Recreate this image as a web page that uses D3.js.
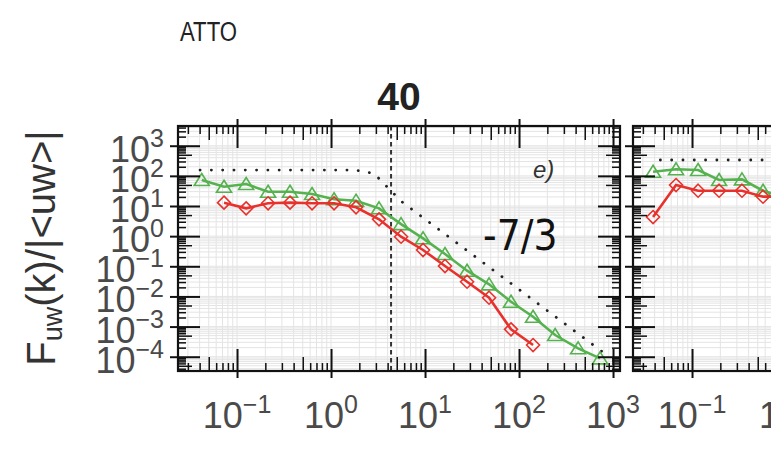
<!DOCTYPE html>
<html><head><meta charset="utf-8">
<script src="https://cdn.jsdelivr.net/npm/d3@7"></script>
<style>body{margin:0;background:#fff} svg{display:block}</style>
</head><body>
<svg id="chart" width="771" height="475"></svg>
<script>
// ---- spectral estimates, panel "40" ----
const kGreen1 = [0.0421,0.0727,0.125,0.214,0.366,0.628,1.077,1.845,3.24,5.56,9.53,16.3,28.0,48.0,82.2,141,242,425,728];
const fGreen1 = [72.8,43.6,53.6,29.8,29.8,25.0,16.7,15.0,8.38,2.51,0.847,0.255,0.0713,0.0252,0.00667,0.00212,0.000524,0.00019,0.0000883];
const kRed1 = [0.0727,0.125,0.214,0.366,0.628,1.077,1.845,3.24,5.56,9.53,16.3,28.0,48.0,82.2,141];
const fRed1 = [12.9,8.38,12.3,12.9,12.3,12.3,9.04,3.61,0.957,0.347,0.102,0.0308,0.00906,0.00081,0.000244];
// reference curve (plateau, then -7/3 decay) and spectral-gap marker
const kRef1 = [0.0404,1.80,2.86,5.65,800];
const fRef1 = [156,156,121,13.9,0.000133];
const kGap1 = 4.35;

// ---- neighbouring panel ----
const kGreen2 = [0.0385,0.0676,0.116,0.194,0.340,0.569,0.975];
const fGreen2 = [137,165,156,72.8,76.7,32.1,19];
const kRed2 = [0.0385,0.0676,0.116,0.194,0.340,0.569,0.975];
const fRed2 = [4.30,49.7,32.1,32.1,32.1,20.3,21];
const kRef2 = [0.046,3];
const fRef2 = [336,336];

// axis ticks
const xMajor = [0.1,1,10,100,1000];
const xMajorExp = ["\u22121","0","1","2","3"];
const yMajor = [1e3,1e2,1e1,1e0,1e-1,1e-2,1e-3,1e-4];
const yMajorExp = ["3","2","1","0","\u22121","\u22122","\u22123","\u22124"];

const GREEN = "#55b24f", RED = "#e8312c";
const svg = d3.select("#chart");
const W = 442, H = 245, TOP = 126;
const FONT = "'Liberation Sans', Arial, Helvetica, sans-serif";

const x = d3.scaleLog().domain([0.02355, 1186]).range([0, W]);
const y = d3.scaleLog().domain([3.36e-5, 4510]).range([H, 0]);

function allTicks(scale) {
  const [a, b] = scale.domain();
  const out = [];
  for (let e = Math.floor(Math.log10(a)); e <= Math.ceil(Math.log10(b)); e++) {
    for (let m = 1; m <= 9; m++) {
      const v = m * Math.pow(10, e);
      if (v >= a && v <= b) out.push(v);
    }
  }
  return out;
}
const xAll = allTicks(x), yAll = allTicks(y);
const isMajor = v => Math.abs(Math.log10(v) - Math.round(Math.log10(v))) < 1e-9;
const isFive = v => Math.abs(v / Math.pow(10, Math.floor(Math.log10(v) + 1e-9)) - 5) < 1e-6;
const xMinor = xAll.filter(v => !isMajor(v) && !isFive(v));
const xFive = xAll.filter(isFive);
const yMinor = yAll.filter(v => !isMajor(v) && !isFive(v));
const yFive = yAll.filter(isFive);

function styleAxis(a, w) {
  a.select(".domain").remove();
  a.selectAll("line").attr("stroke", "#111").attr("stroke-width", w);
}

function drawPanel(x0, id, series, ref, gapK) {
  const g = svg.append("g").attr("transform", `translate(${x0},${TOP})`);
  svg.append("clipPath").attr("id", id).append("rect").attr("width", W).attr("height", H);

  // light log grid
  const grid = g.append("g").attr("stroke", "#e4e4e4").attr("stroke-width", 1);
  grid.selectAll("line.gx").data(xAll).join("line")
    .attr("x1", d => x(d)).attr("x2", d => x(d)).attr("y1", 0).attr("y2", H);
  grid.selectAll("line.gy").data(yAll).join("line")
    .attr("y1", d => y(d)).attr("y2", d => y(d)).attr("x1", 0).attr("x2", W);

  const plot = g.append("g").attr("clip-path", `url(#${id})`);

  if (gapK) {
    plot.append("line").attr("x1", x(gapK)).attr("x2", x(gapK)).attr("y1", 0).attr("y2", H)
      .attr("stroke", "#333").attr("stroke-width", 2).attr("stroke-dasharray", "4.5,3.5");
  }

  const line = d3.line().x(d => x(d[0])).y(d => y(d[1]));
  plot.append("path").datum(d3.zip(ref[0], ref[1])).attr("d", line)
    .attr("fill", "none").attr("stroke", "#222").attr("stroke-width", 2.8)
    .attr("stroke-linecap", "round").attr("stroke-dasharray", "0.1,11.2");

  series.forEach(s => {
    const pts = d3.zip(s.k, s.f);
    plot.append("path").datum(pts).attr("d", line)
      .attr("fill", "none").attr("stroke", s.color).attr("stroke-width", 2.6);
    plot.selectAll(null).data(pts).join("path")
      .attr("transform", d => `translate(${x(d[0])},${y(d[1])})`)
      .attr("d", s.shape).attr("fill", "none").attr("stroke", s.color).attr("stroke-width", 1.6);
  });

  // ticks on all four sides, pointing inward
  [{vals: xMinor, len: 8, w: 1.5}, {vals: xFive, len: 14, w: 1.5}, {vals: xMajor, len: 22, w: 2}].forEach(t => {
    const bottom = d3.axisBottom(x).tickValues(t.vals).tickSizeInner(-t.len).tickSizeOuter(0).tickFormat("");
    const top = d3.axisTop(x).tickValues(t.vals).tickSizeInner(-t.len).tickSizeOuter(0).tickFormat("");
    styleAxis(g.append("g").attr("transform", `translate(0,${H})`).call(bottom), t.w);
    styleAxis(g.append("g").call(top), t.w);
  });
  [{vals: yMinor, len: 8, w: 1.5}, {vals: yFive, len: 14, w: 1.5}, {vals: yMajor, len: 22, w: 2}].forEach(t => {
    const left = d3.axisLeft(y).tickValues(t.vals).tickSizeInner(-t.len).tickSizeOuter(0).tickFormat("");
    const right = d3.axisRight(y).tickValues(t.vals).tickSizeInner(-t.len).tickSizeOuter(0).tickFormat("");
    styleAxis(g.append("g").call(left), t.w);
    styleAxis(g.append("g").attr("transform", `translate(${W},0)`).call(right), t.w);
  });
  // outward stubs of the major ticks
  styleAxis(g.append("g").attr("transform", `translate(0,${H})`)
    .call(d3.axisBottom(x).tickValues(xMajor).tickSizeInner(7).tickSizeOuter(0).tickFormat("")), 2);
  styleAxis(g.append("g")
    .call(d3.axisTop(x).tickValues(xMajor).tickSizeInner(7).tickSizeOuter(0).tickFormat("")), 2);
  styleAxis(g.append("g")
    .call(d3.axisLeft(y).tickValues(yMajor).tickSizeInner(8).tickSizeOuter(0).tickFormat("")), 2);

  g.append("rect").attr("width", W).attr("height", H)
    .attr("fill", "none").attr("stroke", "#111").attr("stroke-width", 2.2);

  // x tick labels 10^n
  const xl = g.append("g").attr("font-family", FONT).attr("fill", "#4a4a4a");
  xMajor.forEach((v, i) => {
    const t = xl.append("text").attr("x", x(v)).attr("y", H + 57)
      .attr("text-anchor", "middle").attr("font-size", 36);
    t.append("tspan").text("10");
    t.append("tspan").attr("font-size", 25).attr("dy", -15).text(xMajorExp[i]);
  });
  return g;
}

const TRI = "M0,-6.5L7.5,5.5L-7.5,5.5Z";
const DIA = "M0,-6.5L6.5,0L0,6.5L-6.5,0Z";
drawPanel(178, "clip-a",
  [{k: kGreen1, f: fGreen1, color: GREEN, shape: TRI},
   {k: kRed1, f: fRed1, color: RED, shape: DIA}],
  [kRef1, fRef1], kGap1);
drawPanel(633, "clip-b",
  [{k: kGreen2, f: fGreen2, color: GREEN, shape: TRI},
   {k: kRed2, f: fRed2, color: RED, shape: DIA}],
  [kRef2, fRef2], null);

// y tick labels of the first panel
const yl = svg.append("g").attr("font-family", FONT).attr("fill", "#4a4a4a");
yMajor.forEach((v, i) => {
  const t = yl.append("text").attr("x", 164).attr("y", TOP + y(v) + 16)
    .attr("text-anchor", "end").attr("font-size", 36);
  t.append("tspan").text("10");
  t.append("tspan").attr("font-size", 25).attr("dy", -15).text(yMajorExp[i]);
});

// y axis title
const yt = svg.append("text").attr("transform", "translate(55,248) rotate(-90)")
  .attr("text-anchor", "middle").attr("font-family", FONT).attr("font-size", 40).attr("fill", "#333");
yt.append("tspan").text("F");
yt.append("tspan").attr("font-size", 27).attr("dy", 7).text("uw");
yt.append("tspan").attr("dy", -7).text("(k)/|<uw>|");

// annotations
svg.append("text").attr("x", 180).attr("y", 41).attr("font-family", FONT)
  .attr("font-size", 27).attr("textLength", 57).attr("lengthAdjust", "spacingAndGlyphs")
  .attr("fill", "#222").text("ATTO");
svg.append("text").attr("x", 399).attr("y", 110).attr("text-anchor", "middle").attr("font-family", FONT)
  .attr("font-weight", "bold").attr("font-size", 39).attr("fill", "#222").text("40");
svg.append("text").attr("x", 533).attr("y", 178).attr("font-family", FONT).attr("font-style", "italic")
  .attr("font-size", 24).attr("fill", "#333").text("e)");
svg.append("text").attr("x", 483).attr("y", 250).attr("font-family", "'Liberation Sans Narrow', 'DejaVu Sans Condensed', sans-serif")
  .attr("font-size", 42).attr("fill", "#111").text("-7/3");
</script>
</body></html>
